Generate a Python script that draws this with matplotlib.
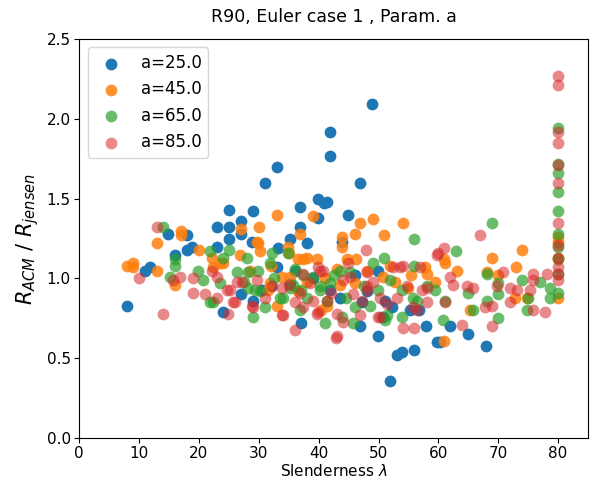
import matplotlib
matplotlib.use("Agg")
import matplotlib.pyplot as plt

# slenderness / ratio values, one pair of lists per "a"
lam_25 = [8.0, 11.0, 11.9, 14.9, 18.0, 23.0, 25.0, 29.0, 25.0, 27.0,
          27.0, 18.0, 18.9, 23.0, 16.0, 25.0, 28.9, 24.0, 29.0, 27.0,
          48.9, 41.9, 41.9, 33.1, 31.1, 46.9, 39.9, 40.9, 36.9, 39.9,
          44.9, 36.9, 41.4, 38.1, 35.2, 33.2, 33.1, 36.1, 37.1, 46.9,
          49.9, 53.1, 53.9, 55.9, 51.9, 57.9, 59.8, 43.9, 49.9, 46.1,
          50.8, 52.3, 61.9, 64.9, 67.9, 60.3, 30.6, 35.2, 41.9, 47.2,
          55.3, 32.0, 39.0, 43.5, 48.0, 51.0, 56.8]
r_25 = [0.83, 1.05, 1.07, 1.28, 1.27, 1.32, 1.43, 1.42, 1.32, 1.36,
        1.28, 1.18, 1.20, 1.20, 1.15, 1.25, 1.23, 0.79, 0.86, 0.90,
        2.09, 1.92, 1.77, 1.70, 1.60, 1.60, 1.50, 1.47, 1.45, 1.38,
        1.40, 1.32, 1.48, 1.22, 1.25, 1.19, 1.07, 1.05, 0.72, 0.70,
        0.64, 0.52, 0.54, 0.55, 0.36, 0.70, 0.60, 1.23, 1.05, 1.02,
        0.76, 0.82, 0.70, 0.65, 0.58, 0.60, 0.93, 0.97, 0.93, 0.85,
        0.80, 0.95, 1.00, 0.88, 0.92, 0.86, 0.80]

lam_45 = [8.0, 9.0, 9.0, 13.0, 13.0, 17.0, 17.0, 27.0, 20.0, 16.0,
          29.7, 26.9, 30.2, 23.5, 22.2, 33.1, 39.1, 30.1, 36.9, 29.9,
          34.9, 35.1, 38.1, 36.6, 39.7, 24.0, 33.9, 31.9, 33.1, 35.2,
          22.4, 31.6, 46.9, 49.1, 54.1, 43.9, 46.1, 50.9, 43.9, 37.4,
          44.7, 46.2, 50.8, 52.8, 54.9, 57.8, 58.1, 41.4, 46.1, 43.6,
          40.4, 60.9, 63.1, 68.9, 74.0, 73.0, 68.1, 70.0, 72.8, 65.3,
          60.9, 61.1, 74.8, 80.0, 80.0, 80.0, 80.0,
          28.5, 32.0, 36.5, 41.0, 43.0, 48.0, 52.0, 55.5, 59.5, 38.0]
r_45 = [1.08, 1.10, 1.07, 1.22, 1.05, 1.30, 1.27, 1.31, 1.18, 0.96,
        1.23, 1.15, 1.17, 1.10, 1.13, 1.40, 1.39, 1.32, 1.28, 1.22,
        1.20, 1.16, 1.13, 1.12, 1.12, 1.10, 1.01, 0.97, 0.83, 1.01,
        1.07, 0.93, 1.35, 1.37, 1.35, 1.26, 1.28, 1.27, 1.20, 1.12,
        1.12, 1.12, 1.01, 0.98, 0.94, 1.07, 1.03, 0.83, 0.97, 0.96,
        0.80, 1.12, 1.05, 1.13, 1.18, 1.07, 1.04, 1.02, 0.88, 0.80,
        0.61, 1.10, 0.88, 0.88, 1.23, 1.13, 1.26,
        1.05, 1.08, 0.92, 1.00, 1.06, 1.05, 1.08, 1.02, 0.98, 0.98]

lam_65 = [14.0, 16.0, 16.0, 15.2, 21.9, 24.0, 25.0, 28.0, 20.7, 21.9,
          29.0, 28.2, 29.4, 19.9, 32.2, 34.9, 31.9, 29.9, 26.4, 28.2,
          30.2, 31.1, 34.1, 35.7, 41.1, 22.4, 23.5, 36.9, 40.2, 39.1,
          55.9, 50.9, 49.1, 55.9, 45.2, 43.6, 49.9, 53.9, 58.1, 53.9,
          51.1, 35.2, 40.2, 41.4, 43.9, 37.4, 38.1, 33.6, 41.9, 45.7,
          46.1, 55.8, 51.4, 68.9, 62.9, 68.1, 70.0, 70.0, 74.0, 75.0,
          74.8, 70.0, 65.8, 64.9, 68.1, 77.0, 78.6, 78.6, 61.1, 59.4,
          60.8, 80.0, 80.0, 80.0, 80.0, 80.0, 80.0, 80.0, 80.0, 80.0,
          80.0, 27.5, 32.5, 37.0, 42.5, 47.5, 52.0, 56.5, 44.5, 36.0,
          48.5]
r_65 = [1.32, 1.12, 1.08, 1.01, 1.17, 1.13, 1.18, 1.13, 0.99, 0.85,
        0.76, 1.04, 0.93, 1.05, 1.16, 1.16, 1.10, 1.05, 1.04, 0.94,
        0.92, 0.82, 0.88, 0.96, 0.72, 0.85, 0.97, 0.80, 0.95, 1.01,
        1.25, 1.13, 1.10, 1.08, 1.04, 1.05, 0.93, 0.93, 0.95, 0.76,
        0.74, 0.94, 0.93, 0.86, 0.76, 1.02, 0.88, 0.88, 0.97, 0.72,
        0.82, 0.88, 0.77, 1.35, 1.17, 1.03, 0.97, 0.90, 0.99, 0.88,
        0.80, 0.75, 0.80, 0.91, 0.86, 0.98, 0.88, 0.94, 0.86, 0.93,
        0.74, 1.94, 1.72, 1.66, 1.54, 1.42, 1.28, 1.20, 1.12, 1.03,
        0.91, 0.98, 1.00, 0.93, 1.02, 0.95, 0.99, 0.86, 0.88, 1.06,
        0.83]

lam_85 = [13.0, 10.0, 14.0, 19.0, 21.0, 22.2, 23.0, 16.9, 19.0, 24.9,
          25.7, 29.0, 23.0, 24.7, 26.4, 29.7, 15.7, 25.2, 26.0, 28.9,
          33.9, 36.1, 36.1, 36.9, 39.9, 39.1, 39.9, 37.4, 33.9, 32.2,
          27.2, 47.9, 43.1, 45.2, 48.1, 48.1, 54.1, 52.4, 53.1, 54.1,
          55.9, 50.3, 46.9, 44.1, 43.1, 39.7, 34.1, 55.8, 58.1, 40.2,
          59.8, 58.1, 37.4, 42.9, 44.9, 56.9, 53.6, 49.9, 47.2, 50.3,
          56.4, 41.4, 40.7, 48.1, 66.9, 59.9, 60.9, 61.9, 61.1, 63.9,
          68.9, 68.9, 72.0, 70.8, 72.0, 75.8, 77.8, 75.8, 65.8, 64.8,
          62.4, 73.1, 67.8, 69.8, 78.1, 75.8, 75.3,
          31.0, 35.0, 38.5, 42.0, 45.8, 49.0, 51.5, 54.8, 57.3, 44.0,
          80.0, 80.0, 80.0, 80.0, 80.0, 80.0, 80.0, 80.0, 80.0, 80.0,
          80.0, 80.0]
r_85 = [1.32, 1.00, 0.78, 0.91, 0.90, 1.05, 1.01, 1.01, 1.00, 0.78,
        0.85, 0.82, 0.88, 0.93, 0.98, 0.99, 0.99, 0.93, 0.85, 0.83,
        0.77, 0.68, 0.85, 0.91, 0.79, 0.86, 1.07, 1.03, 0.94, 0.95,
        0.98, 1.18, 0.64, 1.01, 1.04, 0.95, 1.08, 1.07, 0.88, 0.69,
        0.69, 0.76, 0.77, 0.73, 0.78, 0.78, 0.77, 0.82, 0.85, 1.05,
        1.15, 0.94, 0.82, 0.63, 1.10, 1.07, 1.07, 0.76, 0.86, 0.88,
        0.80, 0.86, 1.05, 0.93, 1.27, 1.16, 1.19, 1.01, 0.85, 0.71,
        0.70, 0.83, 0.85, 1.04, 0.94, 0.99, 0.79, 0.80, 0.94, 0.95,
        0.96, 0.93, 0.82, 0.95, 1.03, 1.03, 0.93,
        0.88, 0.96, 0.97, 0.91, 0.90, 0.98, 0.84, 0.95, 0.93, 0.99,
        2.27, 2.21, 1.92, 1.85, 1.71, 1.60, 1.35, 1.21, 1.13, 1.07,
        1.03, 0.99]

labels = ["a=25.0", "a=45.0", "a=65.0", "a=85.0"]
colors = ["tab:blue", "tab:orange", "tab:green", "tab:red"]
alphas = [1.0, 0.85, 0.7, 0.55]
series = [(lam_25, r_25), (lam_45, r_45), (lam_65, r_65), (lam_85, r_85)]

fig = plt.figure(figsize=(5.91, 4.82), dpi=100)
ax = fig.add_axes([0.134, 0.091, 0.861, 0.828])

for (lam, r), lab, col, al in zip(series, labels, colors, alphas):
    ax.scatter(lam, r, s=72, color=col, alpha=al, linewidths=0, label=lab)

ax.set_xlim(0, 85)
ax.set_ylim(0, 2.5)
ax.set_xticks(range(0, 81, 10))
ax.set_yticks([0.0, 0.5, 1.0, 1.5, 2.0, 2.5])
ax.tick_params(labelsize=11, pad=2.5)
ax.set_xlabel(r"Slenderness $\lambda$", fontsize=11, labelpad=1)
ax.set_ylabel(r"$R_{ACM}$ / $R_{jensen}$", fontsize=15)
ax.set_title("R90, Euler case 1 , Param. a", fontsize=12.5, pad=12)
ax.legend(loc="upper left", fontsize=12)

fig.savefig("out.png", dpi=100)
